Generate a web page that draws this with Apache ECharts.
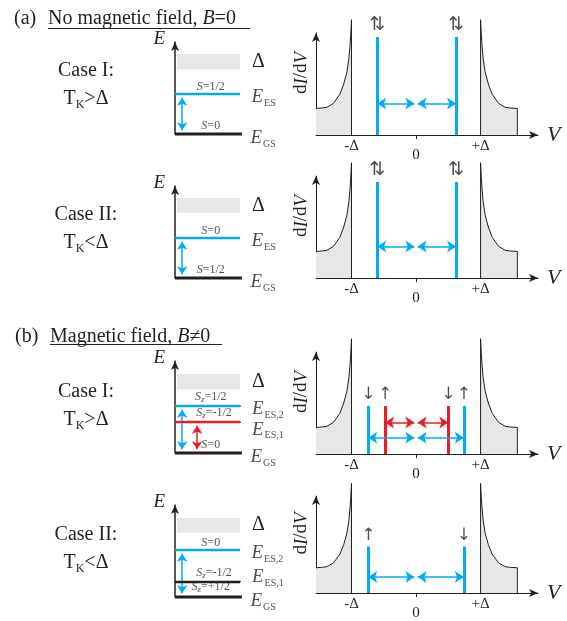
<!DOCTYPE html>
<html>
<head>
<meta charset="utf-8">
<script src="https://cdn.jsdelivr.net/npm/echarts@6/dist/echarts.min.js"></script>
<style>
html, body { margin: 0; padding: 0; background: #fff; }
#main { width: 567px; height: 621px; }
</style>
</head>
<body>
<div id="main"></div>
<script>
// ---------- data ----------
var caseText = ['Case I:', 'Case II:', 'Case I:', 'Case II:'];
var condText = ['T{k|K}>Δ', 'T{k|K}<Δ', 'T{k|K}>Δ', 'T{k|K}<Δ'];

// energy level diagrams (ground state at 0)
var gapLow = [0.70, 0.71, 0.69, 0.70];
var gapHigh = [0.87, 0.87, 0.86, 0.86];
var upperLevel = [0.435, 0.435, 0.51, 0.51];
var lowerLevel = [null, null, 0.337, 0.163];
var upperSpin = ['{i|S}=1/2', '{i|S}=0', '{i|S}{z|z}=1/2', '{i|S}=0'];
var lowerSpin = [null, null, '{i|S}{z|z}=-1/2', '{i|S}{z|z}=-1/2'];
var groundSpin = ['{i|S}=0', '{i|S}=1/2', '{i|S}=0', '{i|S}{z|z}=+1/2'];
var upperName = ['ES', 'ES', 'ES,2', 'ES,2'];
var lowerName = [null, null, 'ES,1', 'ES,1'];

// dI/dV sketch, V in units of Delta
var peakLeftV = [-1.55, -1.45, -1.38, -1.28, -1.18, -1.12, -1.07, -1.04, -1.02, -1.01, -1.0, -1.0];
var peakLeftG = [0.26, 0.265, 0.272, 0.31, 0.40, 0.50, 0.62, 0.75, 0.90, 1.0, 1.13, 0];
var peakRightV = [1.0, 1.0, 1.01, 1.02, 1.04, 1.07, 1.12, 1.18, 1.28, 1.38, 1.45, 1.57, 1.57];
var peakRightG = [0, 1.13, 1.0, 0.90, 0.75, 0.62, 0.50, 0.40, 0.31, 0.272, 0.265, 0.26, 0];

// YSR resonances
var blueV = [[-0.6, 0.62], [-0.6, 0.62], [-0.74, 0.74], [-0.74, 0.74]];
var blueSpin = [['⇅', '⇅'], ['⇅', '⇅'], ['↓', '↑'], ['↑', '↓']];
var redV = [[], [], [-0.48, 0.5], []];
var redSpin = [[], [], ['↑', '↓'], []];
var ysrTop = [0.96, 0.94, 0.47, 0.48];
var blueArrowG = [0.31, 0.31, 0.16, 0.165];
var redArrowG = [null, null, 0.31, null];

var tickV = [-1, 0, 1];
var tickText = ['-Δ', '0', '+Δ'];

// ---------- layout / style ----------
var FONT = "'Liberation Serif', 'Times New Roman', serif";
var BLUE = '#00aeef', RED = '#ed1c24', INK = '#231f20', GREY = '#e6e7e8';
var energyBase = [134, 278, 453, 597];
var plotBase = [135, 278, 454, 598];
var caseY = [71, 215, 392, 535];

var myChart = echarts.init(document.getElementById('main'), null, {renderer: 'canvas'});

var grid = [], xAxis = [], yAxis = [], series = [];

function addGrid(g, xa, ya) {
    var i = grid.length;
    grid.push(g);
    xa.gridIndex = i;
    ya.gridIndex = i;
    xAxis.push(xa);
    yAxis.push(ya);
    return i;
}

function arrowLine(w) {
    return {
        show: true,
        onZero: false,
        lineStyle: {color: INK, width: w},
        symbol: ['none', 'arrow'],
        symbolSize: [6, 9]
    };
}

var spinRich = {
    i: {fontFamily: FONT, fontSize: 12, fontStyle: 'italic', color: INK},
    z: {fontFamily: FONT, fontSize: 9, fontStyle: 'italic', color: INK, padding: [7, 0, 0, 0]}
};
var nameRich = {
    e: {fontFamily: FONT, fontSize: 19, fontStyle: 'italic', color: INK},
    s: {fontFamily: FONT, fontSize: 10, color: INK, padding: [12, 0, 0, 1]}
};

for (var k = 0; k < 4; k++) {
    // ----- energy diagram -----
    var e = addGrid({left: 175, width: 65, top: energyBase[k] - 92, height: 92},
        {type: 'value', min: 0, max: 1, show: false},
        {
            type: 'value', min: 0, max: 1,
            axisLine: arrowLine(1.5),
            axisTick: {show: false}, axisLabel: {show: false}, splitLine: {show: false},
            name: 'E', nameLocation: 'end', nameGap: 3,
            nameTextStyle: {fontFamily: FONT, fontSize: 19, fontStyle: 'italic', color: INK,
                align: 'right', verticalAlign: 'middle', padding: [0, 10, 0, 0]}
        });

    // ground level + gap band
    series.push({
        type: 'line', xAxisIndex: e, yAxisIndex: e, clip: false, silent: true,
        data: [[0, 0], [1.03, 0]], symbol: 'none',
        lineStyle: {color: INK, width: 3},
        markArea: {
            silent: true,
            itemStyle: {color: GREY},
            label: {show: true, position: 'right', distance: 12, formatter: 'Δ',
                fontFamily: FONT, fontSize: 20, color: INK},
            data: [[{coord: [0.03, gapLow[k]]}, {coord: [1, gapHigh[k]]}]]
        }
    });
    // excited levels
    series.push({
        type: 'line', xAxisIndex: e, yAxisIndex: e, silent: true, symbol: 'none',
        data: [[0, upperLevel[k]], [1, upperLevel[k]]],
        lineStyle: {color: BLUE, width: 2.5}
    });
    var labels = [
        {value: [0.55, upperLevel[k]], label: {position: 'top', distance: 1, formatter: upperSpin[k], rich: spinRich}},
        {value: [0.55, 0], label: {position: 'top', distance: 2, formatter: groundSpin[k], rich: spinRich}},
        {value: [1.03, 0], label: {position: 'right', distance: 8, offset: [0, 4], formatter: '{e|E}{s|GS}', rich: nameRich}}
    ];
    var arrows = [{coords: [[0.11, upperLevel[k] - 0.04], [0.11, 0.04]], lineStyle: {color: BLUE}}];
    if (lowerLevel[k] === null) {
        labels.push({value: [1, upperLevel[k]], label: {position: 'right', distance: 11, offset: [0, 3],
            formatter: '{e|E}{s|' + upperName[k] + '}', rich: nameRich}});
    } else {
        var lowCol = k === 2 ? RED : INK;
        var dy = k === 2 ? -0.06 : 0.075;
        series.push({
            type: 'line', xAxisIndex: e, yAxisIndex: e, silent: true, symbol: 'none',
            data: [[0, lowerLevel[k]], [1, lowerLevel[k]]],
            lineStyle: {color: lowCol, width: 2.5}
        });
        // leader lines to the level names
        series.push({
            type: 'line', xAxisIndex: e, yAxisIndex: e, silent: true, symbol: 'none', clip: false,
            data: [[1, lowerLevel[k]], [1.13, lowerLevel[k] + dy]],
            lineStyle: {color: INK, width: 1}
        });
        labels.push({value: [1.13, lowerLevel[k] + dy], label: {position: 'right', distance: 3, offset: [0, 2],
            formatter: '{e|E}{s|' + lowerName[k] + '}', rich: nameRich}});
        labels.push({value: [0.6, lowerLevel[k]], label: {position: 'top', distance: 1, formatter: lowerSpin[k], rich: spinRich}});
        if (k === 2) {
            series.push({
                type: 'line', xAxisIndex: e, yAxisIndex: e, silent: true, symbol: 'none', clip: false,
                data: [[1, upperLevel[k]], [1.13, upperLevel[k]]],
                lineStyle: {color: INK, width: 1}
            });
            labels.push({value: [1.13, upperLevel[k]], label: {position: 'right', distance: 3, offset: [0, 3],
                formatter: '{e|E}{s|' + upperName[k] + '}', rich: nameRich}});
            arrows.push({coords: [[0.34, lowerLevel[k] - 0.04], [0.34, 0.04]], lineStyle: {color: RED}});
        } else {
            labels.push({value: [1, upperLevel[k]], label: {position: 'right', distance: 11, offset: [0, 3],
                formatter: '{e|E}{s|' + upperName[k] + '}', rich: nameRich}});
        }
    }
    series.push({
        type: 'lines', coordinateSystem: 'cartesian2d', xAxisIndex: e, yAxisIndex: e, silent: true,
        symbol: ['arrow', 'arrow'], symbolSize: 8,
        lineStyle: {width: 1.5, opacity: 1},
        data: arrows
    });
    series.push({
        type: 'scatter', xAxisIndex: e, yAxisIndex: e, silent: true, clip: false,
        symbolSize: 1, itemStyle: {color: 'rgba(0,0,0,0)'},
        label: {show: true, fontFamily: FONT, fontSize: 12, color: INK},
        data: labels
    });

    // ----- dI/dV sketch -----
    var p = addGrid({left: 316, width: 222, top: plotBase[k] - 102, height: 102},
        {
            type: 'value', min: -1.55, max: 1.89,
            axisLine: arrowLine(1),
            axisTick: {show: true, customValues: [0], length: 4, lineStyle: {color: INK}},
            axisLabel: {
                customValues: tickV, margin: 4, fontFamily: FONT, fontSize: 15, color: INK,
                formatter: function (v) {
                    var t = tickText[tickV.indexOf(v)];
                    return v === 0 ? '{z|' + t + '}' : t;
                },
                rich: {z: {fontFamily: FONT, fontSize: 15, color: INK, padding: [9, 0, 0, 0]}}
            },
            splitLine: {show: false},
            name: 'V', nameLocation: 'end', nameGap: 9,
            nameTextStyle: {fontFamily: FONT, fontSize: 22, fontStyle: 'italic', color: INK, verticalAlign: 'middle'}
        },
        {
            type: 'value', min: 0, max: 1,
            axisLine: arrowLine(1),
            axisTick: {show: false}, axisLabel: {show: false}, splitLine: {show: false},
            name: 'd{i|I}/d{i|V}', nameLocation: 'middle', nameRotate: 90, nameGap: 5,
            nameTextStyle: {fontFamily: FONT, fontSize: 19, color: INK, padding: [0, 0, 0, 22],
                rich: {i: {fontFamily: FONT, fontSize: 19, fontStyle: 'italic', color: INK}}}
        });

    [[peakLeftV, peakLeftG], [peakRightV, peakRightG]].forEach(function (pk) {
        series.push({
            type: 'line', xAxisIndex: p, yAxisIndex: p, silent: true, clip: false,
            symbol: 'none', smooth: false,
            data: pk[0].map(function (v, i) { return [v, pk[1][i]]; }),
            lineStyle: {color: INK, width: 1},
            areaStyle: {color: GREY, opacity: 1}
        });
    });

    var ysr = [], hArrows = [], spins = [];
    blueV[k].forEach(function (v, i) {
        ysr.push({coords: [[v, 0], [v, ysrTop[k]]], lineStyle: {color: BLUE}});
        spins.push({value: [v, ysrTop[k]], label: {formatter: blueSpin[k][i], fontSize: blueSpin[k][i] === '⇅' ? 19 : 17}});
        var inner = v < 0 ? -0.025 : 0.025;
        hArrows.push({coords: [[v, blueArrowG[k]], [inner, blueArrowG[k]]], lineStyle: {color: BLUE}});
    });
    redV[k].forEach(function (v, i) {
        ysr.push({coords: [[v, 0], [v, ysrTop[k]]], lineStyle: {color: RED}});
        spins.push({value: [v, ysrTop[k]], label: {formatter: redSpin[k][i]}});
        var inner = v < 0 ? -0.025 : 0.025;
        hArrows.push({coords: [[v, redArrowG[k]], [inner, redArrowG[k]]], lineStyle: {color: RED}});
    });
    series.push({
        type: 'lines', coordinateSystem: 'cartesian2d', xAxisIndex: p, yAxisIndex: p, silent: true,
        symbol: 'none', lineStyle: {width: 3, opacity: 1}, data: ysr
    });
    series.push({
        type: 'lines', coordinateSystem: 'cartesian2d', xAxisIndex: p, yAxisIndex: p, silent: true,
        symbol: ['arrow', 'arrow'], symbolSize: 9, lineStyle: {width: 1.5, opacity: 1}, data: hArrows
    });
    series.push({
        type: 'scatter', xAxisIndex: p, yAxisIndex: p, silent: true, clip: false,
        symbolSize: 1, itemStyle: {color: 'rgba(0,0,0,0)'},
        label: {show: true, position: 'top', distance: 2, fontFamily: "'DejaVu Sans', sans-serif", fontSize: 17, color: INK},
        data: spins
    });
}

var titleRich = {i: {fontFamily: FONT, fontSize: 20, fontStyle: 'italic', fill: INK}};
var graphic = [
    {type: 'text', x: 14, y: 19, style: {text: '(a)', fontFamily: FONT, fontSize: 20, fill: INK, verticalAlign: 'middle'}},
    {type: 'text', x: 48, y: 19, style: {text: 'No magnetic field, {i|B}=0', fontFamily: FONT, fontSize: 20, fill: INK, verticalAlign: 'middle', rich: titleRich}},
    {type: 'line', shape: {x1: 48, y1: 28.5, x2: 250, y2: 28.5}, style: {stroke: INK, lineWidth: 1}},
    {type: 'text', x: 15, y: 337, style: {text: '(b)', fontFamily: FONT, fontSize: 20, fill: INK, verticalAlign: 'middle'}},
    {type: 'text', x: 50, y: 337, style: {text: 'Magnetic field, {i|B}≠0', fontFamily: FONT, fontSize: 20, fill: INK, verticalAlign: 'middle', rich: titleRich}},
    {type: 'line', shape: {x1: 50, y1: 344.5, x2: 222, y2: 344.5}, style: {stroke: INK, lineWidth: 1}}
];
for (var c = 0; c < 4; c++) {
    graphic.push({type: 'text', x: 86, y: caseY[c], style: {text: caseText[c], fontFamily: FONT, fontSize: 20,
        fill: INK, align: 'center', verticalAlign: 'middle'}});
    graphic.push({type: 'text', x: 86, y: caseY[c] + 28, style: {text: condText[c], fontFamily: FONT, fontSize: 20,
        fill: INK, align: 'center', verticalAlign: 'middle',
        rich: {k: {fontFamily: FONT, fontSize: 12, fill: INK, padding: [12, 0, 0, 0]}}}});
}

var option = {
    animation: false,
    backgroundColor: '#fff',
    grid: grid,
    xAxis: xAxis,
    yAxis: yAxis,
    series: series,
    graphic: graphic
};
myChart.setOption(option);
</script>
</body>
</html>
